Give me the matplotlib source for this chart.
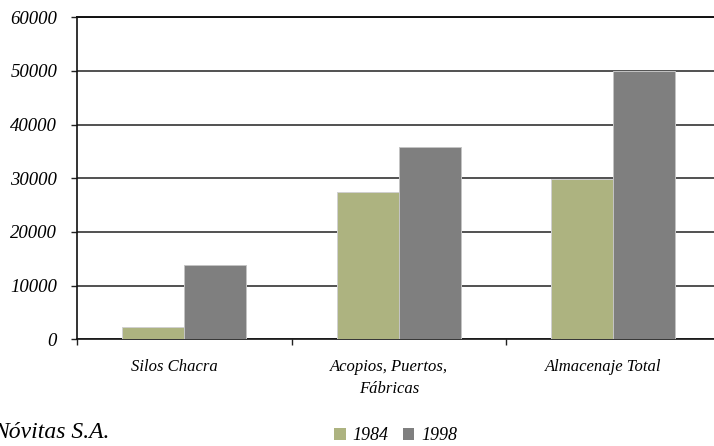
import matplotlib
matplotlib.use("Agg")
import matplotlib.pyplot as plt
import matplotlib.transforms as mtransforms
from matplotlib.patches import Patch
import numpy as np

# Storage capacity (tonnes) by category
categories = ["Silos Chacra", "Acopios, Puertos,\nFábricas", "Almacenaje Total"]
series_names = ["1984", "1998"]
values_1984 = [2250, 27450, 29900]
values_1998 = [13800, 35850, 50000]
y_ticks = [0, 10000, 20000, 30000, 40000, 50000, 60000]
source_text = "Nóvitas S.A."

color_1984 = "#adb380"
color_1998 = "#7f7f7f"

plt.rcParams["font.family"] = ["Liberation Serif", "DejaVu Serif"]
plt.rcParams["font.style"] = "italic"

W, H = 714, 446
fig = plt.figure(figsize=(W / 100, H / 100), dpi=100)
ax = fig.add_axes([77 / W, 106.7 / H, 643.5 / W, 322 / H])

x = np.arange(len(categories)) + 0.5
bw = 0.289
ax.bar(x - bw / 2, values_1984, bw, color=color_1984, edgecolor="#d0d0d0",
       linewidth=0.7, zorder=3)
ax.bar(x + bw / 2, values_1998, bw, color=color_1998, edgecolor="#c4c4c4",
       linewidth=0.7, zorder=3)

ax.set_xlim(0, len(categories))
ax.set_ylim(0, 60000)
ax.set_yticks(y_ticks)
ax.set_yticklabels([str(v) for v in y_ticks], fontsize=13.5, fontstyle="italic",
                   family=["Liberation Serif", "DejaVu Serif"])
ax.yaxis.grid(True, color="#333333", linewidth=1.2, zorder=0)
ax.set_axisbelow(True)

# category boundary ticks, labels placed at centres
ax.set_xticks(np.arange(len(categories) + 1))
ax.set_xticklabels([])
ax.tick_params(axis="x", direction="out", length=4.3, width=1, color="#222222")
ax.tick_params(axis="y", direction="out", length=4.3, width=1, color="#222222",
               pad=10)
shift = mtransforms.ScaledTranslation(-10 / 100, -20 / 100, fig.dpi_scale_trans)
for xi, name in zip(x, categories):
    ax.text(xi, 0, name, transform=ax.get_xaxis_transform() + shift,
            ha="center", va="top", fontsize=12, fontstyle="italic",
            linespacing=1.45)

for side in ("top", "right"):
    ax.spines[side].set_visible(False)
for side in ("left", "bottom"):
    ax.spines[side].set_color("#111111")
    ax.spines[side].set_linewidth(1.2)
ax.axhline(60000, color="#111111", linewidth=1.4, zorder=1, clip_on=False)

fig.text(110 / W, 1 - 432 / H, source_text, ha="right", va="center",
         fontsize=17, fontstyle="italic")

handles = [Patch(facecolor=color_1984, edgecolor="none"),
           Patch(facecolor=color_1998, edgecolor="none")]
leg = fig.legend(handles, series_names, loc="center",
                 bbox_to_anchor=(396 / W, 1 - 436 / H),
                 ncol=2, frameon=False, fontsize=13, handlelength=0.62,
                 handleheight=0.62, handletextpad=0.4, columnspacing=0.8,
                 borderpad=0, borderaxespad=0)
for t in leg.get_texts():
    t.set_fontstyle("italic")

fig.savefig("out.png", dpi=100)
